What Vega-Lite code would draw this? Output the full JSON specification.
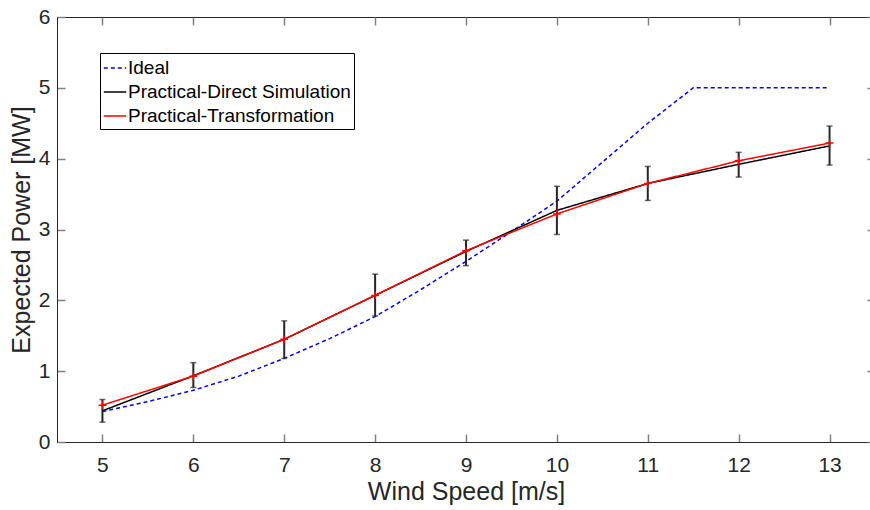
{
  "$schema": "https://vega.github.io/schema/vega-lite/v6.json",
  "width": 818,
  "height": 425,
  "autosize": {"type": "none"},
  "padding": {"left": 57, "top": 17, "right": 0, "bottom": 68},
  "background": "white",
  "config": {
    "view": {"stroke": "#262626", "strokeWidth": 1},
    "font": "Liberation Sans",
    "axis": {
      "grid": false,
      "domainColor": "#262626",
      "domainWidth": 1,
      "tickColor": "#808080",
      "tickWidth": 1.5,
      "tickSize": -8,
      "labelColor": "#262626",
      "labelFont": "Liberation Sans",
      "labelFontSize": 21,
      "titleFont": "Liberation Sans",
      "titleFontSize": 25,
      "titleFontWeight": "normal",
      "titleColor": "#262626"
    }
  },
  "data": {
    "values": [
      {"series": "Ideal", "speed": 5, "power": 0.43},
      {"series": "Ideal", "speed": 5.5, "power": 0.57},
      {"series": "Ideal", "speed": 6, "power": 0.73},
      {"series": "Ideal", "speed": 6.5, "power": 0.93},
      {"series": "Ideal", "speed": 7, "power": 1.18},
      {"series": "Ideal", "speed": 7.5, "power": 1.46},
      {"series": "Ideal", "speed": 8, "power": 1.77},
      {"series": "Ideal", "speed": 8.5, "power": 2.15},
      {"series": "Ideal", "speed": 9, "power": 2.55},
      {"series": "Ideal", "speed": 9.5, "power": 2.97},
      {"series": "Ideal", "speed": 10, "power": 3.4},
      {"series": "Ideal", "speed": 10.5, "power": 3.95},
      {"series": "Ideal", "speed": 11, "power": 4.5},
      {"series": "Ideal", "speed": 11.5, "power": 5.0},
      {"series": "Ideal", "speed": 12, "power": 5.0},
      {"series": "Ideal", "speed": 12.5, "power": 5.0},
      {"series": "Ideal", "speed": 13, "power": 5.0},
      {"series": "Practical-Direct Simulation", "speed": 5, "power": 0.44, "lo": 0.28, "hi": 0.6},
      {"series": "Practical-Direct Simulation", "speed": 6, "power": 0.935, "lo": 0.77, "hi": 1.12},
      {"series": "Practical-Direct Simulation", "speed": 7, "power": 1.45, "lo": 1.18, "hi": 1.71},
      {"series": "Practical-Direct Simulation", "speed": 8, "power": 2.07, "lo": 1.78, "hi": 2.37},
      {"series": "Practical-Direct Simulation", "speed": 9, "power": 2.69, "lo": 2.49, "hi": 2.85},
      {"series": "Practical-Direct Simulation", "speed": 10, "power": 3.27, "lo": 2.93, "hi": 3.61},
      {"series": "Practical-Direct Simulation", "speed": 11, "power": 3.65, "lo": 3.41, "hi": 3.89},
      {"series": "Practical-Direct Simulation", "speed": 12, "power": 3.92, "lo": 3.74, "hi": 4.09},
      {"series": "Practical-Direct Simulation", "speed": 13, "power": 4.18, "lo": 3.91, "hi": 4.46},
      {"series": "Practical-Transformation", "speed": 5, "power": 0.52},
      {"series": "Practical-Transformation", "speed": 6, "power": 0.93},
      {"series": "Practical-Transformation", "speed": 7, "power": 1.45},
      {"series": "Practical-Transformation", "speed": 8, "power": 2.07},
      {"series": "Practical-Transformation", "speed": 9, "power": 2.7},
      {"series": "Practical-Transformation", "speed": 10, "power": 3.22},
      {"series": "Practical-Transformation", "speed": 11, "power": 3.65},
      {"series": "Practical-Transformation", "speed": 12, "power": 3.97},
      {"series": "Practical-Transformation", "speed": 13, "power": 4.22}
    ]
  },
  "resolve": {"axis": {"x": "independent", "y": "independent"}},
  "layer": [
    {
      "mark": {"type": "line", "strokeWidth": 1.5},
      "encoding": {
        "x": {"field": "speed", "type": "quantitative", "scale": {"domain": [4.5, 13.5], "nice": false},
              "axis": {"values": [5, 6, 7, 8, 9, 10, 11, 12, 13], "title": "Wind Speed [m/s]", "labelPadding": 20, "titlePadding": 4}},
        "y": {"field": "power", "type": "quantitative", "scale": {"domain": [0, 6], "nice": false, "zero": false},
              "axis": {"values": [0, 1, 2, 3, 4, 5, 6], "title": "Expected Power [MW]", "labelPadding": 15, "titlePadding": 4}},
        "color": {"field": "series", "type": "nominal",
                  "scale": {"domain": ["Ideal", "Practical-Direct Simulation", "Practical-Transformation"], "range": ["#0000FF", "#000000", "#FF0000"]},
                  "legend": {"title": null, "orient": "none", "legendX": 43, "legendY": 36,
                             "fillColor": "white", "strokeColor": "#000000", "padding": 3,
                             "symbolType": "stroke", "symbolSize": 500, "symbolStrokeWidth": 1.5,
                             "labelFont": "Liberation Sans", "labelFontSize": 19, "labelColor": "#000000", "labelLimit": 400,
                             "rowPadding": 2, "labelOffset": 1}},
        "strokeDash": {"field": "series", "type": "nominal",
                       "scale": {"domain": ["Ideal", "Practical-Direct Simulation", "Practical-Transformation"], "range": [[4, 3], [1, 0], [1, 0]]},
                       "legend": {"title": null, "orient": "none", "legendX": 43, "legendY": 36,
                             "fillColor": "white", "strokeColor": "#000000", "padding": 3,
                             "symbolType": "stroke", "symbolSize": 500, "symbolStrokeWidth": 1.5,
                             "labelFont": "Liberation Sans", "labelFontSize": 19, "labelColor": "#000000", "labelLimit": 400,
                             "rowPadding": 2, "labelOffset": 1}}
      }
    },
    {
      "transform": [{"filter": "datum.series === 'Practical-Direct Simulation'"}],
      "mark": {"type": "rule", "color": "#262626", "strokeWidth": 2},
      "encoding": {
        "x": {"field": "speed", "type": "quantitative", "axis": null},
        "y": {"field": "lo", "type": "quantitative", "axis": null},
        "y2": {"field": "hi"}
      }
    },
    {
      "transform": [{"filter": "datum.series === 'Practical-Direct Simulation'"}],
      "mark": {"type": "tick", "orient": "horizontal", "color": "#262626", "size": 6, "thickness": 1.5},
      "encoding": {
        "x": {"field": "speed", "type": "quantitative", "axis": null},
        "y": {"field": "lo", "type": "quantitative", "axis": null}
      }
    },
    {
      "transform": [{"filter": "datum.series === 'Practical-Direct Simulation'"}],
      "mark": {"type": "tick", "orient": "horizontal", "color": "#262626", "size": 6, "thickness": 1.5},
      "encoding": {
        "x": {"field": "speed", "type": "quantitative", "axis": null},
        "y": {"field": "hi", "type": "quantitative", "axis": null}
      }
    },
    {
      "transform": [{"filter": "datum.series === 'Practical-Transformation'"}],
      "mark": {"type": "point", "shape": "M-1,0L1,0M0,-1L0,1", "filled": false, "stroke": "#FF0000", "strokeWidth": 1.5, "size": 60, "opacity": 1},
      "encoding": {
        "x": {"field": "speed", "type": "quantitative",
              "axis": {"orient": "top", "values": [5, 6, 7, 8, 9, 10, 11, 12, 13], "labels": false, "title": null, "domain": false}},
        "y": {"field": "power", "type": "quantitative",
              "axis": {"orient": "right", "values": [0, 1, 2, 3, 4, 5, 6], "labels": false, "title": null, "domain": false}}
      }
    }
  ]
}
